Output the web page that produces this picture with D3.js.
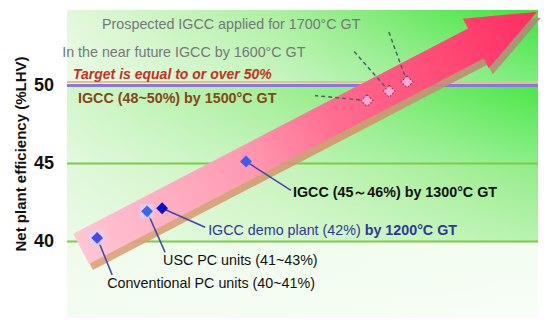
<!DOCTYPE html>
<html>
<head>
<meta charset="utf-8">
<script src="https://cdn.jsdelivr.net/npm/d3@7.9.0/dist/d3.min.js"></script>
<style>
  html, body { margin: 0; padding: 0; background: #fff; }
  svg { display: block; font-family: "Liberation Sans", Arial, sans-serif; }
</style>
</head>
<body>
<svg id="chart" width="550" height="326"></svg>
<script>
// technology stages, left to right along the arrow
const stageNames = [
  'Conventional PC units (40~41%)',
  'USC PC units (41~43%)',
  'IGCC demo plant (42%) |by 1200°C GT',
  'IGCC (45～46%) by 1300°C GT',
  'IGCC (48~50%) by 1500°C GT',
  'In the near future IGCC by 1600°C GT',
  'Prospected IGCC applied for 1700°C GT',
];
const stagePositions = [6.4, 17, 20.2, 38, 63.7, 68.4, 72.2];
const efficiencyValues = [40.2, 41.9, 42.1, 45.1, 49.0, 49.6, 50.2];
const yTicks = [40, 45, 50];
const targetValue = 50;
const targetLabel = 'Target is equal to or over 50%';
const arrowFrom = [3, 39.5];
const arrowTo = [99.8, 54.7];

const plot = { left: 67, right: 538, top: 10, bottom: 318 };

const x = d3.scaleLinear().domain([0, 100]).range([plot.left, plot.right]);
const y = d3.scaleLinear().domain([35, 55]).range([319, 7]);

const svg = d3.select('#chart');
const defs = svg.append('defs');

function addGradient(id, stops, attrs = {}) {
  const g = defs.append('linearGradient').attr('id', id);
  Object.entries(attrs).forEach(([k, v]) => g.attr(k, v));
  g.selectAll('stop')
    .data(stops)
    .join('stop')
    .attr('offset', (d) => d[0])
    .attr('stop-color', (d) => d[1])
    .attr('stop-opacity', (d) => (d[2] === undefined ? 1 : d[2]));
  return g;
}

// background bands, each a little greener at top right
const bands = [
  { from: 50, to: 55, stops: [[0, '#e2f8da'], [0.45, '#acf0a0'], [0.75, '#6ee866'], [1, '#3ce43c']] },
  { from: 45, to: 50, stops: [[0, '#d2f6ca'], [0.45, '#a0ee94'], [0.75, '#74ea6a'], [1, '#4ae648']] },
  { from: 40, to: 45, stops: [[0, '#e0f8da'], [0.5, '#c2f3b6'], [1, '#92ec86']] },
  { from: 35, to: 40, stops: [[0, '#eefbea'], [1, '#f3fdf1']] },
];
addGradient('fade', [[0, '#ffffff', 0], [1, '#ffffff', 0.35]], { x1: 0, y1: 0, x2: 0, y2: 1 });

bands.forEach((band, i) => {
  addGradient(`band${i}`, band.stops, { x1: 0, y1: 0, x2: 1, y2: 0 });
  const top = Math.max(plot.top, y(band.to));
  const bottom = Math.min(plot.bottom, y(band.from));
  svg.append('rect')
    .attr('x', plot.left).attr('y', top)
    .attr('width', plot.right - plot.left).attr('height', bottom - top)
    .attr('fill', `url(#band${i})`);
  svg.append('rect')
    .attr('x', plot.left).attr('y', top)
    .attr('width', plot.right - plot.left).attr('height', bottom - top)
    .attr('fill', 'url(#fade)');
});

// reference lines
svg.append('line')
  .attr('x1', plot.left).attr('x2', plot.right)
  .attr('y1', y(targetValue) - 3).attr('y2', y(targetValue) - 3)
  .attr('stroke', '#d9c48e').attr('stroke-width', 2);

svg.selectAll('.ref')
  .data(yTicks)
  .join('line')
  .attr('class', 'ref')
  .attr('x1', plot.left).attr('x2', plot.right)
  .attr('y1', (d) => y(d) + 0.5).attr('y2', (d) => y(d) + 0.5)
  .attr('stroke', (d) => (d === targetValue ? '#8a76dc' : '#7ccc46'))
  .attr('stroke-width', (d) => (d === targetValue ? 3 : 2));

// big arrow
function arrowPoints(dx = 0, dy = 0) {
  const p0 = [x(arrowFrom[0]) + dx, y(arrowFrom[1]) + dy];
  const p1 = [x(arrowTo[0]) + dx, y(arrowTo[1]) + dy];
  const len = Math.hypot(p1[0] - p0[0], p1[1] - p0[1]);
  const u = [(p1[0] - p0[0]) / len, (p1[1] - p0[1]) / len];
  const n = [-u[1], u[0]];
  const headLen = 69;
  const shaft = 17;
  const head = 28;
  const base = [p1[0] - u[0] * headLen, p1[1] - u[1] * headLen];
  const at = (p, s) => [p[0] + n[0] * s, p[1] + n[1] * s];
  return [at(p0, shaft), at(base, shaft), at(base, head), p1, at(base, -head), at(base, -shaft), at(p0, -shaft)];
}

const tail = [x(arrowFrom[0]), y(arrowFrom[1])];
const tip = [x(arrowTo[0]), y(arrowTo[1])];
const gradAttrs = { gradientUnits: 'userSpaceOnUse', x1: tail[0], y1: tail[1], x2: tip[0], y2: tip[1] };
addGradient('arrowShadow', [[0, '#dca27a'], [0.6, '#d2946e'], [1, '#a88a78']], gradAttrs);
addGradient('arrowFill', [[0, '#ffc6d4'], [0.36, '#ff9ab2'], [0.55, '#ff6e90'], [1, '#ff2c60']], gradAttrs);

const line = d3.line();
svg.append('path')
  .attr('d', line(arrowPoints(4, 6)) + 'Z')
  .attr('fill', 'url(#arrowShadow)')
  .attr('opacity', 0.9);
svg.append('path')
  .attr('d', line(arrowPoints()) + 'Z')
  .attr('fill', 'url(#arrowFill)');

// label layout: leader end and text start, relative to the point
const labelLayout = [
  { lx: 15, ly: 37, tx: 10, ty: 50, color: '#111', weight: 'normal', dashed: false },
  { lx: 18, ly: 41, tx: 16, ty: 54, color: '#111', weight: 'normal', dashed: false },
  { lx: 43, ly: 19, tx: 46, ty: 27, color: '#2c3a96', weight: 'normal', dashed: false },
  { lx: 45, ly: 29, tx: 47, ty: 36, color: '#111', weight: 'bold', dashed: false },
  { lx: -52, ly: -5, tx: -289, ty: 2, color: '#864616', weight: 'bold', dashed: true },
  { lx: -37, ly: -42, tx: -327, ty: -34, color: '#747878', weight: 'normal', dashed: true },
  { lx: -19, ly: -52, tx: -305, ty: -53, color: '#747878', weight: 'normal', dashed: true },
];
const diamondColors = ['#4a48e8', '#3d63f0', '#0c0cd0', '#3c5cf0', '#ffaad8', '#ffaad8', '#ffaad8'];

const stages = stageNames.map((name, i) => ({
  name,
  cx: x(stagePositions[i]),
  cy: y(efficiencyValues[i]),
  layout: labelLayout[i],
  color: diamondColors[i],
}));

svg.selectAll('.leader')
  .data(stages)
  .join('line')
  .attr('class', 'leader')
  .attr('x1', (d) => d.cx).attr('y1', (d) => d.cy)
  .attr('x2', (d) => d.cx + d.layout.lx).attr('y2', (d) => d.cy + d.layout.ly)
  .attr('stroke', (d) => (d.layout.dashed ? '#4a6070' : '#4444b0'))
  .attr('stroke-width', 1.5)
  .attr('stroke-dasharray', (d) => (d.layout.dashed ? '4,3' : null));

svg.selectAll('.halo')
  .data(stages.slice(0, 2))
  .join('rect')
  .attr('class', 'halo')
  .attr('x', (d) => d.cx - 7).attr('y', (d) => d.cy - 7)
  .attr('width', 14).attr('height', 14)
  .attr('fill', '#d4d6f2').attr('opacity', 0.8);

svg.selectAll('.diamond')
  .data(stages)
  .join('rect')
  .attr('class', 'diamond')
  .attr('x', -4.2).attr('y', -4.2)
  .attr('width', 8.4).attr('height', 8.4)
  .attr('transform', (d) => `translate(${d.cx},${d.cy}) rotate(45)`)
  .attr('fill', (d) => d.color)
  .attr('stroke', (d) => (d.layout.dashed ? '#a03050' : 'none'))
  .attr('stroke-width', 1)
  .attr('stroke-dasharray', '2,1.5');

// a "|" splits a label into a normal part and a bold part
const labels = svg.selectAll('.label')
  .data(stages)
  .join('text')
  .attr('class', 'label')
  .attr('x', (d) => d.cx + d.layout.tx)
  .attr('y', (d) => d.cy + d.layout.ty)
  .attr('fill', (d) => d.layout.color)
  .attr('font-weight', (d) => d.layout.weight)
  .attr('font-size', 14.3);

labels.each(function (d) {
  const parts = d.name.split('|');
  d3.select(this).selectAll('tspan')
    .data(parts)
    .join('tspan')
    .attr('font-weight', (p, i) => (i > 0 ? 'bold' : null))
    .text((p) => p);
});

svg.append('text')
  .attr('x', 73).attr('y', y(targetValue) - 6)
  .attr('fill', '#c8301e')
  .attr('font-weight', 'bold')
  .attr('font-style', 'italic')
  .attr('font-size', 14)
  .text(targetLabel);

// y axis
svg.selectAll('.tick')
  .data(yTicks)
  .join('text')
  .attr('class', 'tick')
  .attr('x', 54)
  .attr('y', (d) => y(d))
  .attr('dy', '0.36em')
  .attr('text-anchor', 'end')
  .attr('font-weight', 'bold')
  .attr('font-size', 18)
  .attr('fill', '#111')
  .text((d) => d);

svg.append('text')
  .attr('transform', `translate(26,154) rotate(-90)`)
  .attr('text-anchor', 'middle')
  .attr('font-weight', 'bold')
  .attr('font-size', 15)
  .attr('fill', '#111')
  .text('Net plant efficiency (%LHV)');
</script>
</body>
</html>
